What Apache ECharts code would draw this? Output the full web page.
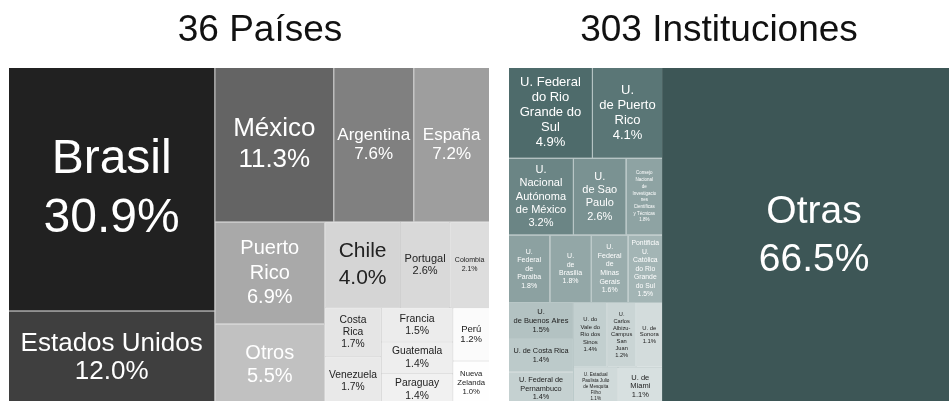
<!DOCTYPE html>
<html><head><meta charset="utf-8">
<script src="https://cdn.jsdelivr.net/npm/echarts@6/dist/echarts.min.js"></script>
<style>html,body{margin:0;padding:0;background:#fff}#c{width:949px;height:401px}</style>
</head><body><div id="c"></div>
<script>
// ---------- data ----------
const titles = ['36 Países', '303 Instituciones'];

const paises = ['Brasil', 'Estados Unidos', 'México', 'Argentina', 'España', 'Puerto\nRico', 'Otros',
  'Chile', 'Portugal', 'Colombia', 'Costa\nRica', 'Venezuela', 'Francia', 'Guatemala', 'Paraguay',
  'Perú', 'Nueva\nZelanda'];
const paisesPct = [30.9, 12.0, 11.3, 7.6, 7.2, 6.9, 5.5, 4.0, 2.6, 2.1, 1.7, 1.7, 1.5, 1.4, 1.4, 1.2, 1.0];

const instituciones = ['U. Federal\ndo Rio\nGrande do\nSul', 'U.\nde Puerto\nRico', 'U.\nNacional\nAutónoma\nde México',
  'U.\nde Sao\nPaulo', 'Consejo\nNacional\nde\nInvestigacio\nnes\nCientíficas\ny Técnicas',
  'U.\nFederal\nde\nParaiba', 'U.\nde\nBrasilia', 'U.\nFederal\nde\nMinas\nGerais',
  'Pontificia\nU.\nCatólica\ndo Rio\nGrande\ndo Sul', 'U.\nde Buenos Aires', 'U. de Costa Rica',
  'U. Federal de\nPernambuco', 'U. do\nVale do\nRio dos\nSinos', 'U.\nCarlos\nAlbizu-\nCampus\nSan\nJuan',
  'U. de\nSonora', 'U. Estadual\nPaulista Julio\nde Mesquita\nFilho', 'U. de\nMiami'];
const institucionesPct = [4.9, 4.1, 3.2, 2.6, 1.8, 1.8, 1.8, 1.6, 1.5, 1.5, 1.4, 1.4, 1.4, 1.2, 1.1, 1.1, 1.1];

const otrasName = 'Otras';
const otrasPct = 66.5;

// ---------- styles ----------
const FONT = '"Liberation Sans", Arial, Helvetica, sans-serif';
const paisColors = ['#212121', '#3f3f3f', '#646464', '#808080', '#9e9e9e', '#a9a9a9', '#c1c1c1',
  '#d5d5d5', '#d9d9d9', '#dddddd', '#e5e5e5', '#e9e9e9', '#ececec', '#eeeeee', '#f1f1f1', '#fbfbfb', '#fefefe'];
const paisLabel = [[48, 59], [26, 28], [26, 31], [17, 19], [17, 19], [20, 24.5], [20, 23.5], [21, 26.5],
  [11, 12], [7, 9], [10.3, 12.3], [10.3, 12.3], [10.5, 12.3], [10.3, 12.3], [10.3, 12.3], [9.5, 10], [7.7, 9]];
const paisDarkFrom = 7;

const instColors = ['#4e6b6b', '#5a7676', '#6b8585', '#7a9292', '#8ea3a3', '#8ca1a1', '#93a7a7', '#9aadad',
  '#a3b5b5', '#b3c2c2', '#bccaca', '#c5d1d1', '#c2cfcf', '#cad5d5', '#d3dcdc', '#d0dada', '#d7e0e0'];
const instLabel = [[13, 15], [13, 15], [11, 13.3], [11, 13.3], [4.5, 6.7], [7, 8.4], [7, 8.4], [7, 8.7],
  [6.8, 8.5], [7.5, 9], [7.3, 8.7], [7.3, 8.7], [5.9, 7.5], [5.7, 6.9], [5.9, 6.7], [4.6, 6], [7.5, 8.8]];
const instDarkFrom = 9;
const otrasColor = '#3d5656';
const otrasLabel = [39, 48];

// layout boxes
const TOP = 68, H = 337;
const LEFT_X = 9, LEFT_W = 480;
const RIGHT_X = 509, RIGHT_W = 457;

function fmt(p) { return p.name + '\n' + p.value.toFixed(1) + '%'; }

function items(names, vals, colors, lab, darkFrom) {
  return names.map((n, i) => ({
    name: n, value: vals[i],
    itemStyle: { color: colors[i] },
    label: { fontSize: lab[i][0], lineHeight: lab[i][1], color: i >= darkFrom ? '#222' : '#fff' }
  }));
}

function tm(box, data, gapColor) {
  return Object.assign({
    type: 'treemap', sort: false, roam: false, nodeClick: false, silent: true,
    breadcrumb: { show: false },
    label: { show: true, position: 'inside', formatter: fmt, padding: 0, overflow: 'none', fontFamily: FONT, align: 'center', verticalAlign: 'middle' },
    upperLabel: { show: false },
    itemStyle: { borderWidth: 0, gapWidth: 0 },
    levels: [{ itemStyle: { borderWidth: 0, gapWidth: 1, borderColor: gapColor } }, { itemStyle: { borderWidth: 0 } }],
    data: data
  }, box);
}

const instSum = institucionesPct.reduce((a, b) => a + b, 0);
const groupW = RIGHT_W * instSum / (instSum + otrasPct);

const chart = echarts.init(document.getElementById('c'), null, { renderer: 'canvas' });
chart.setOption({
  animation: false,
  graphic: [
    { type: 'text', x: 260, y: 31, style: { text: titles[0], fontSize: 37, fontFamily: FONT, fill: '#111', align: 'center', verticalAlign: 'middle' } },
    { type: 'text', x: 719, y: 31, style: { text: titles[1], fontSize: 37, fontFamily: FONT, fill: '#111', align: 'center', verticalAlign: 'middle' } }
  ],
  series: [
    tm({ left: LEFT_X, top: TOP, width: LEFT_W, height: H }, items(paises, paisesPct, paisColors, paisLabel, paisDarkFrom), '#cfcfcf'),
    tm({ left: RIGHT_X, top: TOP, width: groupW, height: H }, items(instituciones, institucionesPct, instColors, instLabel, instDarkFrom), '#b9c7c7'),
    tm({ left: RIGHT_X + groupW, top: TOP, width: RIGHT_W - groupW, height: H },
      [{ name: otrasName, value: otrasPct, itemStyle: { color: otrasColor }, label: { fontSize: otrasLabel[0], lineHeight: otrasLabel[1], color: '#fff' } }], '#b9c7c7')
  ]
});
</script>
</body></html>
